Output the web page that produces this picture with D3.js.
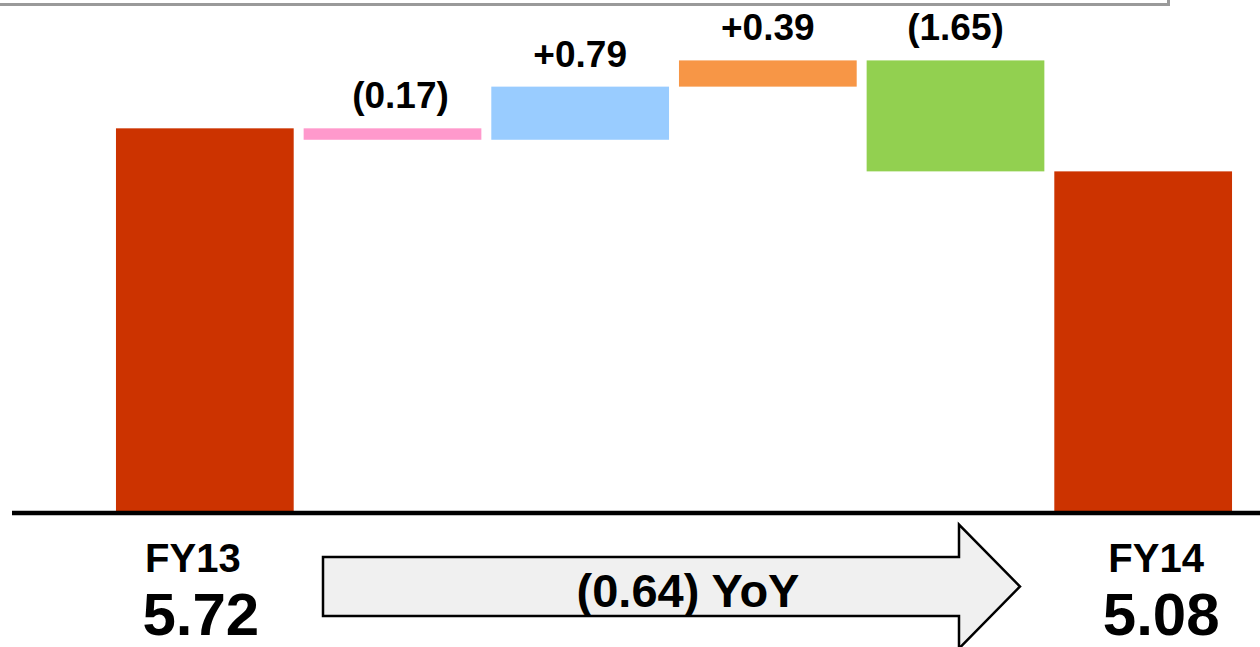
<!DOCTYPE html>
<html>
<head>
<meta charset="utf-8">
<script src="https://cdn.jsdelivr.net/npm/d3@7"></script>
<style>
  html, body { margin: 0; padding: 0; background: #fff; }
  svg { display: block; font-family: "Liberation Sans", Arial, sans-serif; }
</style>
</head>
<body>
<svg id="chart" width="1260" height="647"></svg>
<script>
// ---- data ----
const categories = ["FY13", "step1", "step2", "step3", "step4", "FY14"];
const values = [5.72, -0.17, 0.79, 0.39, -1.65, 5.08];
const barLabels = ["", "(0.17)", "+0.79", "+0.39", "(1.65)", ""];
const totalNames = ["FY13", "FY14"];
const totalValues = ["5.72", "5.08"];
const yoyLabel = "(0.64) YoY";
const yTicks = [0, 7];

// ---- build waterfall ----
const colors = d3.scaleOrdinal()
  .domain(categories)
  .range(["#cc3300", "#ff99cc", "#99ccff", "#f79646", "#92d050", "#cc3300"]);

let running = 0;
const rows = categories.map((c, i) => {
  const isTotal = i === 0 || i === categories.length - 1;
  let y0, y1;
  if (isTotal) { y0 = 0; y1 = values[i]; running = values[i]; }
  else { y0 = running; y1 = running + values[i]; running = y1; }
  return { cat: c, i, y0: Math.min(y0, y1), y1: Math.max(y0, y1), label: barLabels[i], isTotal };
});

const svg = d3.select("#chart");
const baseY = 513;

const x = d3.scaleBand()
  .domain(categories)
  .range([111, 1237])
  .paddingInner(0.053)
  .paddingOuter(0.0265);

const y = d3.scaleLinear()
  .domain(yTicks)
  .range([baseY, baseY - 7 * 67.25]);

// top frame (bottom edge of a box above)
svg.append("path")
  .attr("d", "M0,4.5H1168.5V0")
  .attr("fill", "none")
  .attr("stroke", "#9a9a9a")
  .attr("stroke-width", 3);

// bars
svg.append("g").selectAll("rect")
  .data(rows)
  .join("rect")
  .attr("x", d => x(d.cat))
  .attr("width", x.bandwidth())
  .attr("y", d => y(d.y1))
  .attr("height", d => y(d.y0) - y(d.y1))
  .attr("fill", d => colors(d.cat));

// step labels
svg.append("g").selectAll("text")
  .data(rows.filter(d => d.label))
  .join("text")
  .attr("x", d => x(d.cat) + x.bandwidth() / 2 + (d.i === 1 ? 8 : 0))
  .attr("y", d => y(d.y1) - 20)
  .attr("text-anchor", "middle")
  .attr("font-weight", "bold")
  .attr("font-size", 37)
  .attr("fill", "#000")
  .text(d => d.label);

// baseline
svg.append("line")
  .attr("x1", 12).attr("x2", 1260)
  .attr("y1", baseY).attr("y2", baseY)
  .attr("stroke", "#000")
  .attr("stroke-width", 4.5);

// total labels under first/last bars
const totals = [
  { cat: categories[0], name: totalNames[0], val: totalValues[0], dxName: -12, dxVal: -4 },
  { cat: categories[5], name: totalNames[1], val: totalValues[1], dxName: 13, dxVal: 18 }
];
totals.forEach(t => {
  const cx = x(t.cat) + x.bandwidth() / 2;
  svg.append("text")
    .attr("x", cx + t.dxName).attr("y", 571.5)
    .attr("text-anchor", "middle")
    .attr("font-weight", "bold").attr("font-size", 40)
    .text(t.name);
  svg.append("text")
    .attr("x", cx + t.dxVal).attr("y", 634.5)
    .attr("text-anchor", "middle")
    .attr("font-weight", "bold").attr("font-size", 60)
    .text(t.val);
});

// YoY arrow
const ax0 = 323, axHead = 959, axTip = 1020, aTop = 557, aBot = 616, aMid = (aTop + aBot) / 2, headHalf = 62;
const arrowPath = d3.path();
arrowPath.moveTo(ax0, aTop);
arrowPath.lineTo(axHead, aTop);
arrowPath.lineTo(axHead, aMid - headHalf);
arrowPath.lineTo(axTip, aMid);
arrowPath.lineTo(axHead, aMid + headHalf);
arrowPath.lineTo(axHead, aBot);
arrowPath.lineTo(ax0, aBot);
arrowPath.closePath();
svg.append("path")
  .attr("d", arrowPath.toString())
  .attr("fill", "#f0f0f0")
  .attr("stroke", "#000")
  .attr("stroke-width", 2.5)
  .attr("stroke-linejoin", "miter");

svg.append("text")
  .attr("x", 688).attr("y", 607)
  .attr("text-anchor", "middle")
  .attr("font-weight", "bold").attr("font-size", 47)
  .text(yoyLabel);
</script>
</body>
</html>
